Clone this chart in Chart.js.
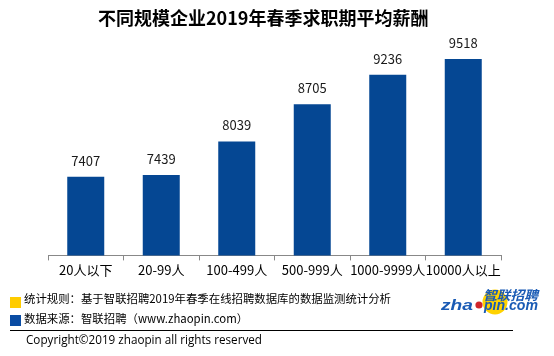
<!DOCTYPE html>
<html><head><meta charset="utf-8">
<script src="https://cdn.jsdelivr.net/npm/chart.js@4/dist/chart.umd.min.js"></script>
<style>html,body{margin:0;padding:0;background:#fff}#wrap{width:554px;height:356px;position:relative}</style>
</head><body><div id="wrap"><canvas id="c" width="554" height="356"></canvas></div>
<script>
const categories = ["20人以下","20-99人","100-499人","500-999人","1000-9999人","10000人以上"];
const salaries = [7407,7439,8039,8705,9236,9518];
const titleText = "不同规模企业2019年春季求职期平均薪酬";
const note1 = "统计规则：基于智联招聘2019年春季在线招聘数据库的数据监测统计分析";
const note2 = "数据来源：智联招聘（www.zhaopin.com）";
const copyright = "Copyright©2019 zhaopin all rights reserved";
const CJK = '"Noto Sans CJK SC", "Microsoft YaHei", sans-serif';

function fitText(ctx, txt, x, y, w){
  const m = ctx.measureText(txt).width;
  ctx.save(); ctx.translate(x,y); ctx.scale(w/m,1); ctx.fillText(txt,0,0); ctx.restore();
}

const decor = {
  id:'decor',
  afterDraw(chart){
    const ctx = chart.ctx;
    ctx.save();
    ctx.fillStyle = '#000';
    ctx.font = 'bold 18px ' + CJK;
    ctx.textAlign = 'left'; ctx.textBaseline = 'middle';
    ctx.fillText(titleText, 98, 18);
    const meta = chart.getDatasetMeta(0);
    ctx.font = '13px ' + CJK;
    ctx.textAlign = 'center'; ctx.textBaseline = 'middle';
    ctx.fillStyle = '#1a1a1a';
    meta.data.forEach((bar,i)=>{ ctx.fillText(String(salaries[i]), bar.x, bar.y - 16); });
    ctx.fillStyle = '#FFCC00'; ctx.fillRect(10,297,11,11);
    ctx.fillStyle = '#0A4CA3'; ctx.fillRect(10,315,11,11);
    ctx.fillStyle = '#000';
    ctx.textAlign = 'left';
    ctx.font = '11.4px ' + CJK;
    ctx.fillText(note1, 24, 299);
    ctx.fillText(note2, 24, 319);
    ctx.strokeStyle = '#000'; ctx.lineWidth = 1;
    ctx.beginPath(); ctx.moveTo(10,330.5); ctx.lineTo(513,330.5); ctx.stroke();
    ctx.font = '11.7px "Open Sans", "DejaVu Sans", sans-serif';
    ctx.fillText(copyright, 26, 341);
    // logo
    ctx.fillStyle = '#FFD200';
    ctx.beginPath(); ctx.arc(495,302,12.5,0,Math.PI*2); ctx.fill();
    ctx.fillStyle = '#1A5BB5';
    ctx.font = 'italic bold 13px ' + CJK;
    fitText(ctx, '智联招聘', 483, 295, 55);
    ctx.font = 'italic bold 15px "Liberation Sans", "DejaVu Sans", sans-serif';
    fitText(ctx, 'zha', 441, 306, 32);
    ctx.fillStyle = '#D0252A';
    ctx.beginPath(); ctx.arc(479, 305, 3.6, 0, Math.PI*2); ctx.fill();
    ctx.fillStyle = '#1A5BB5';
    fitText(ctx, 'pin.com', 484, 306, 54);
    ctx.restore();
  }
};

new Chart(document.getElementById('c'), {
  type:'bar',
  data:{ labels: categories, datasets:[{ data: salaries, backgroundColor:'#054793', barPercentage:0.49, categoryPercentage:1.0 }]},
  options:{
    responsive:false, animation:false, devicePixelRatio:1,
    layout:{ padding:{ left:48, right:53, top:32, bottom:76 } },
    plugins:{ legend:{display:false}, title:{display:false}, tooltip:{enabled:false} },
    scales:{
      y:{ display:false, min:6000, max:10000 },
      x:{
        border:{ display:true, color:'#888', width:1 },
        grid:{ display:true, drawOnChartArea:false, drawTicks:true, tickLength:5, color:'#888', offset:true },
        ticks:{ color:'#000', font:{ size:13, family: CJK }, padding:2, maxRotation:0, autoSkip:false }
      }
    }
  },
  plugins:[decor]
});
</script></body></html>
